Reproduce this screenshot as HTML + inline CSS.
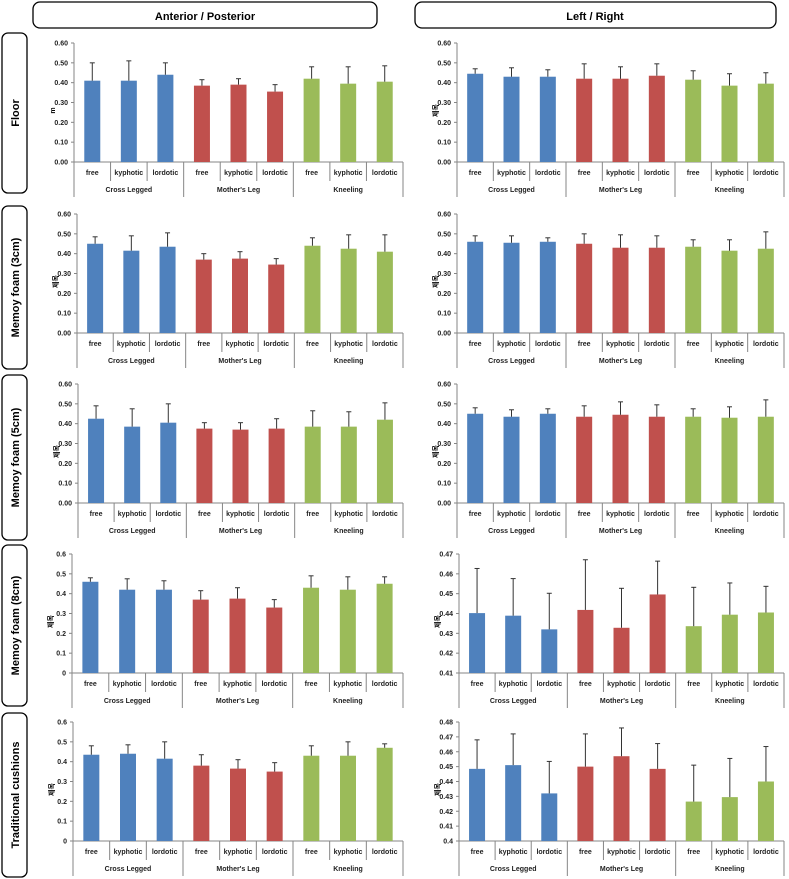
<!DOCTYPE html>
<html><head><meta charset="utf-8">
<style>
body{margin:0;background:#fff;width:789px;height:879px;overflow:hidden;font-family:"Liberation Sans","Noto Sans CJK KR",sans-serif;}
svg{display:block}
</style></head>
<body>
<svg id="c" width="789" height="879" xmlns="http://www.w3.org/2000/svg">
<rect x="33" y="2" width="344" height="26" rx="7" fill="#fff" stroke="#000" stroke-width="1.3"/>
<text x="205" y="20" text-anchor="middle" font-size="11" font-weight="bold">Anterior / Posterior</text>
<rect x="415" y="2" width="361" height="26" rx="7" fill="#fff" stroke="#000" stroke-width="1.3"/>
<text x="595" y="20" text-anchor="middle" font-size="11" font-weight="bold">Left / Right</text>
</svg>
<script>
const categories=["free","kyphotic","lordotic","free","kyphotic","lordotic","free","kyphotic","lordotic"];
const groups=["Cross Legged","Mother's Leg","Kneeling"];
const rowLabels=["Floor","Memoy foam (3cm)","Memoy foam (5cm)","Memoy foam (8cm)","Traditional cushions"];
const apValues=[
[.41,.41,.44,.385,.39,.355,.42,.395,.405],
[.45,.415,.435,.37,.375,.345,.44,.425,.41],
[.425,.385,.405,.375,.37,.375,.385,.385,.42],
[.46,.42,.42,.37,.375,.33,.43,.42,.45],
[.435,.44,.415,.38,.365,.35,.43,.43,.47]];
const apErrTop=[
[.50,.51,.50,.415,.42,.39,.48,.48,.485],
[.485,.49,.505,.40,.41,.375,.48,.495,.495],
[.49,.475,.50,.405,.405,.425,.465,.46,.505],
[.48,.475,.465,.415,.43,.37,.49,.485,.485],
[.48,.485,.50,.435,.41,.395,.48,.50,.49]];
const lrValues=[
[.445,.43,.43,.42,.42,.435,.415,.385,.395],
[.46,.455,.46,.45,.43,.43,.435,.415,.425],
[.45,.435,.45,.435,.445,.435,.435,.43,.435],
[.4402,.4389,.432,.4418,.4328,.4496,.4336,.4394,.4405],
[.4485,.451,.432,.45,.457,.4485,.4265,.4295,.44]];
const lrErrTop=[
[.47,.475,.465,.495,.48,.495,.46,.445,.45],
[.49,.49,.48,.50,.495,.49,.47,.47,.51],
[.48,.47,.475,.49,.51,.495,.475,.485,.52],
[.4627,.4576,.4502,.4671,.4527,.4664,.4532,.4554,.4537],
[.468,.472,.4535,.472,.476,.4655,.451,.4555,.4635]];
const apTicks=[
["0.00","0.10","0.20","0.30","0.40","0.50","0.60"],
["0.00","0.10","0.20","0.30","0.40","0.50","0.60"],
["0.00","0.10","0.20","0.30","0.40","0.50","0.60"],
["0","0.1","0.2","0.3","0.4","0.5","0.6"],
["0","0.1","0.2","0.3","0.4","0.5","0.6"]];
const lrTicks=[
["0.00","0.10","0.20","0.30","0.40","0.50","0.60"],
["0.00","0.10","0.20","0.30","0.40","0.50","0.60"],
["0.00","0.10","0.20","0.30","0.40","0.50","0.60"],
["0.41","0.42","0.43","0.44","0.45","0.46","0.47"],
["0.4","0.41","0.42","0.43","0.44","0.45","0.46","0.47","0.48"]];
const yTitles=["m","제목","제목","제목","제목"];

const svg=document.getElementById('c');
const NS="http://www.w3.org/2000/svg";
const colors=["#4f81bd","#c0504d","#9bbb59"];
const rowTops=[43,214,384,554,722];
const boxes=[[33,193],[206,369],[375,540],[545,706],[713,877]];
const leftAxisX=[74,77,78,72,73];
const rightAxisX=[457,457,457,459,459];
function mk(tag,attrs,txt){const e=document.createElementNS(NS,tag);for(const k in attrs)e.setAttribute(k,attrs[k]);if(txt!==undefined)e.textContent=txt;svg.appendChild(e);return e;}

rowLabels.forEach((lab,r)=>{
  const [t,b]=boxes[r];
  const bx=mk('rect',{x:2,y:t,width:25,height:b-t,rx:6,fill:'#fff',stroke:'#000','stroke-width':1.3});
  
  
  const cy=(t+b)/2;
  const tx=mk('text',{x:19,y:cy,'text-anchor':'middle','font-size':11,'font-weight':'bold',transform:`rotate(-90 19 ${cy})`},lab);
  
  
});

function drawChart(ax,right,top,vals,errs,ticks,ytitle){
  const h=119, base=top+h;
  const tmin=parseFloat(ticks[0]), tmax=parseFloat(ticks[ticks.length-1]);
  const y=v=>base-(v-tmin)/(tmax-tmin)*h;
  const cw=(right-ax)/categories.length;
  const xc=i=>ax+cw*(i+0.5);
  const yl=mk('line',{x1:ax,y1:top,x2:ax,y2:base,stroke:'#868686','stroke-width':1});
  
  
  ticks.forEach(tk=>{
    const v=parseFloat(tk), yy=y(v);
    mk('line',{x1:ax-3,y1:yy,x2:ax,y2:yy,stroke:'#868686','stroke-width':1});
    const tl=mk('text',{x:ax-6,y:yy+2.5,'text-anchor':'end','font-size':7,'font-weight':'bold',fill:'#222'},tk);
    
    
  });
  const tyY=(top+base)/2+8;
  const yt=mk('text',{x:ax-19,y:tyY,'text-anchor':'middle','font-size':7,'font-weight':'bold',transform:`rotate(-90 ${ax-19} ${tyY})`},ytitle);
  
  
  const xl=mk('line',{x1:ax,y1:base,x2:right,y2:base,stroke:'#868686','stroke-width':1});
  
  
  for(let i=0;i<=categories.length;i++){
    const xx=ax+cw*i, isG=i%3===0;
    mk('line',{x1:xx,y1:base,x2:xx,y2:base+(isG?35:19),stroke:'#868686','stroke-width':1});
  }
  vals.forEach((v,i)=>{
    const bw=16;
    const bar=mk('rect',{x:xc(i)-bw/2,y:y(v),width:bw,height:base-y(v),fill:colors[Math.floor(i/3)]});
    
    
    const e=mk('line',{x1:xc(i),y1:y(v),x2:xc(i),y2:y(errs[i]),stroke:'#333','stroke-width':1});
    
    
    mk('line',{x1:xc(i)-2.5,y1:y(errs[i]),x2:xc(i)+2.5,y2:y(errs[i]),stroke:'#333','stroke-width':1});
    const cl=mk('text',{x:xc(i),y:base+13,'text-anchor':'middle','font-size':7,'font-weight':'bold',fill:'#222'},categories[i]);
    
    
  });
  groups.forEach((g,j)=>{
    const gl=mk('text',{x:ax+cw*(j*3+1.5),y:base+30,'text-anchor':'middle','font-size':7,'font-weight':'bold',fill:'#222'},g);
    
    
  });
}
for(let r=0;r<5;r++){
  drawChart(leftAxisX[r],403,rowTops[r],apValues[r],apErrTop[r],apTicks[r],yTitles[r]);
  drawChart(rightAxisX[r],784,rowTops[r],lrValues[r],lrErrTop[r],lrTicks[r],"제목");
}
</script>
</body></html>
